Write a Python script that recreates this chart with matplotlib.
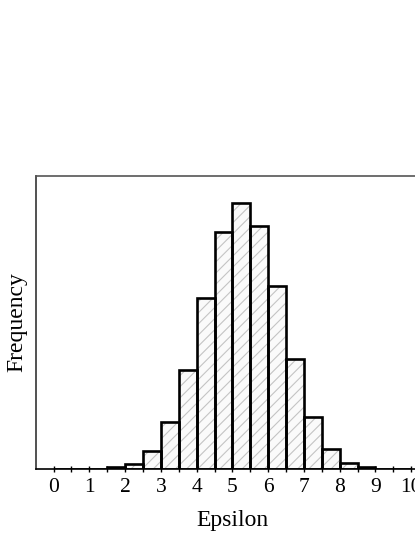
import numpy as np
import matplotlib
matplotlib.use("Agg")
import matplotlib.pyplot as plt

# histogram of epsilon values, bin width 0.5
bin_edges = [0.0, 0.5, 1.0, 1.5, 2.0, 2.5, 3.0, 3.5, 4.0, 4.5, 5.0,
             5.5, 6.0, 6.5, 7.0, 7.5, 8.0, 8.5, 9.0, 9.5, 10.0]
counts = [0.1, 0.2, 0.5, 1.7, 5.3, 17.7, 47.3, 98.7, 171.3, 237.3, 266.3,
          243.3, 183.3, 109.7, 51.7, 20.3, 6.0, 1.7, 0.5, 0.2]
xticks = [0, 1, 2, 3, 4, 5, 6, 7, 8, 9, 10]

plt.rcParams['font.family'] = ['Liberation Serif', 'DejaVu Serif']
plt.rcParams['hatch.linewidth'] = 0.8

fig = plt.figure(figsize=(4.15, 5.37), dpi=100)
ax = fig.add_axes([0.086, 0.1266, 0.948, 0.546])

edges = np.array(bin_edges)
widths = np.diff(edges)
# light hatched fill (hatch takes the edge colour, so draw it separately)
ax.bar(edges[:-1], counts, width=widths, align='edge',
       color='#fafafa', edgecolor='#c4c4c4', linewidth=0, hatch='///')
# black outlines on top
ax.bar(edges[:-1], counts, width=widths, align='edge',
       fill=False, edgecolor='black', linewidth=1.9)

ax.set_xlim(-0.5, 10.5)
ax.set_ylim(0, 293)
ax.set_xticks(xticks)
ax.set_xticks(np.arange(0.5, 10.5, 1.0), minor=True)
ax.set_yticks([])
ax.tick_params(axis='x', which='major', direction='inout', length=5,
               width=1, labelsize=15.5, pad=4)
ax.tick_params(axis='x', which='minor', direction='inout', length=5, width=1)

ax.spines['right'].set_visible(False)
ax.spines['top'].set_color('#555555')
ax.spines['top'].set_linewidth(1.2)
ax.spines['left'].set_color('#333333')
ax.spines['left'].set_linewidth(1.2)
ax.spines['bottom'].set_linewidth(1.2)

ax.set_xlabel("Epsilon", fontsize=17, labelpad=9)
ax.set_ylabel("Frequency", fontsize=17, labelpad=6)

fig.savefig("out.png", dpi=100)
